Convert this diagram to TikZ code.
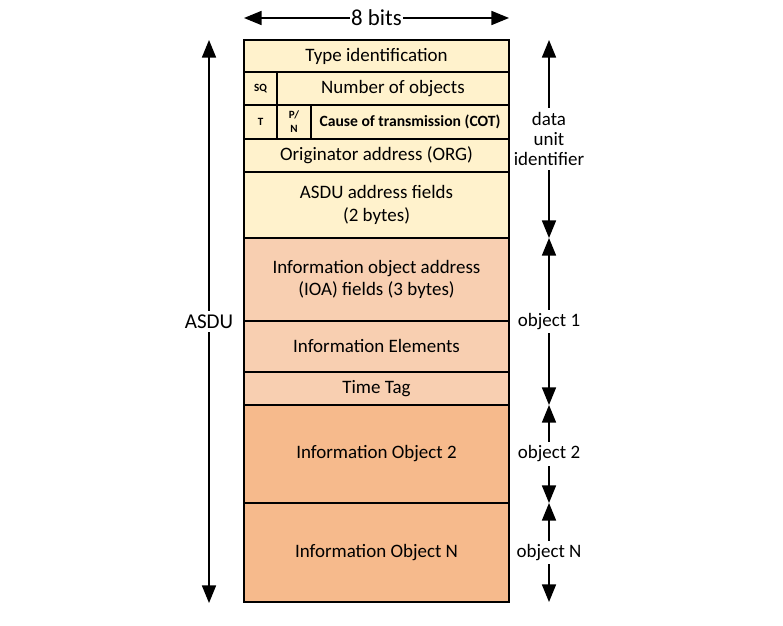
\documentclass[tikz,border=0pt]{standalone}
\usepackage{fontspec}
\setmainfont{Carlito}
\usepackage{xcolor}
\usetikzlibrary{arrows.meta}
\usetikzlibrary{positioning}

\definecolor{duiyellow}{HTML}{FFF2CC}
\definecolor{objlight}{HTML}{F8CFB1}
\definecolor{objdark}{HTML}{F6BA8C}

\tikzset{
  field/.style={draw=black, line width=1.1pt, outer sep=0pt, inner sep=1pt,
    align=center, font=\fontsize{10.8}{12.8}\selectfont},
  tinyfield/.style={field, font=\fontsize{6.3}{7}\selectfont\bfseries},
  dimarrow/.style={{Triangle[length=10pt,width=8pt]}-{Triangle[length=10pt,width=8pt]}, line width=0.8pt},
  dimlabel/.style={fill=white, inner sep=2pt, align=center, font=\fontsize{10.8}{11.6}\selectfont}
}

\begin{document}
\begin{tikzpicture}[x=0.02cm, y=-0.02cm]
        \useasboundingbox (0,0) rectangle (783,625);

        % Data unit identifier
        \node (typeid) [field, fill=duiyellow, minimum width=5.3cm, minimum height=0.64cm] at (376.5,56) {Type identification};
        \node (sq) [tinyfield, fill=duiyellow, anchor=north west, minimum width=0.66cm, minimum height=0.66cm] at (typeid.south west) {SQ};
        \node (numobj) [field, fill=duiyellow, right=0pt of sq, minimum width=4.64cm, minimum height=0.66cm] {Number of objects};
        \node (t) [tinyfield, fill=duiyellow, anchor=north west, minimum width=0.66cm, minimum height=0.68cm] at (sq.south west) {T};
        \node (pn) [tinyfield, fill=duiyellow, right=0pt of t, minimum width=0.68cm, minimum height=0.68cm, font=\fontsize{6.3}{8}\selectfont\bfseries] {P/\\N};
        \node (cot) [field, fill=duiyellow, right=0pt of pn, minimum width=3.96cm, minimum height=0.68cm, font=\fontsize{8.9}{10}\selectfont\bfseries] {Cause of transmission (COT)};
        \node (org) [field, fill=duiyellow, anchor=north west, minimum width=5.3cm, minimum height=0.66cm] at (t.south west) {Originator address (ORG)};
        \node (asduaddr) [field, fill=duiyellow, below=0pt of org, minimum width=5.3cm, minimum height=1.32cm] {ASDU address fields\\(2 bytes)};

        % Object 1
        \node (ioa) [field, fill=objlight, below=0pt of asduaddr, minimum width=5.3cm, minimum height=1.66cm] {Information object address\\(IOA) fields (3 bytes)};
        \node (elems) [field, fill=objlight, below=0pt of ioa, minimum width=5.3cm, minimum height=1.02cm] {Information Elements};
        \node (timetag) [field, fill=objlight, below=0pt of elems, minimum width=5.3cm, minimum height=0.66cm] {Time Tag};

        % Objects 2 .. N
        \node (objtwo) [field, fill=objdark, below=0pt of timetag, minimum width=5.3cm, minimum height=1.96cm] {Information Object 2};
        \node (objn) [field, fill=objdark, below=0pt of objtwo, minimum width=5.3cm, minimum height=1.98cm] {Information Object N};

        % Width
        \coordinate (bitsL) at (244,18);
        \coordinate (bitsR) at (509,18);
        \draw[dimarrow] (bitsL) -- (bitsR) node[midway, fill=white, inner sep=0.5pt, font=\fontsize{13}{15}\selectfont] {8 bits};

        % ASDU
        \coordinate (asduT) at (209,40);
        \coordinate (asduB) at (209,603);
        \draw[dimarrow] (asduT) -- (asduB) node[dimlabel, midway, font=\fontsize{12}{13}\selectfont] {ASDU};

        % Right side
        \coordinate (duiT) at (549,40);
        \coordinate (duiB) at (549,238);
        \coordinate (obB) at (549,405);
        \coordinate (obtwoB) at (549,503);
        \coordinate (obnB) at (549,602);
        \draw[dimarrow] (duiT) -- (duiB) node[dimlabel, midway] {data\\unit\\identifier};
        \draw[dimarrow] (duiB) -- (obB) node[dimlabel, midway] {object 1};
        \draw[dimarrow] (obB) -- (obtwoB) node[dimlabel, midway] {object 2};
        \draw[dimarrow] (obtwoB) -- (obnB) node[dimlabel, midway] {object N};
\end{tikzpicture}
\end{document}
